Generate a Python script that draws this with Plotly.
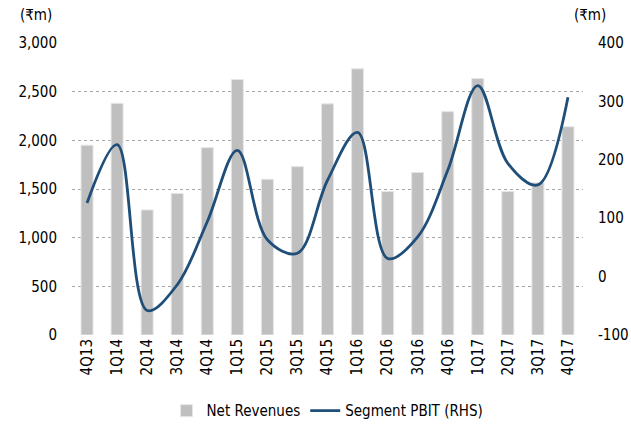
import plotly.graph_objects as go

quarters = ["4Q13", "1Q14", "2Q14", "3Q14", "4Q14", "1Q15", "2Q15", "3Q15", "4Q15",
            "1Q16", "2Q16", "3Q16", "4Q16", "1Q17", "2Q17", "3Q17", "4Q17"]
net_revenues = [1950, 2380, 1285, 1455, 1925, 2625, 1600, 1730, 2375,
                2735, 1475, 1670, 2295, 2635, 1475, 1565, 2140]
segment_pbit = [126, 226, -58, -14, 94, 216, 63, 40, 165,
                247, 31, 68, 182, 327, 194, 157, 307]
left_ticks = [0, 500, 1000, 1500, 2000, 2500, 3000]
left_labels = ["0", "500", "1,000", "1,500", "2,000", "2,500", "3,000"]
right_ticks = [-100, 0, 100, 200, 300, 400]
right_labels = ["-100", "0", "100", "200", "300", "400"]

FONT = "DejaVu Sans Condensed, Liberation Sans Narrow, Liberation Sans, sans-serif"

fig = go.Figure()
fig.add_trace(go.Bar(
    x=quarters, y=net_revenues, name="Net Revenues",
    marker=dict(color="#BFBFBF", line=dict(color="#E6E6E6", width=1)),
    width=0.4,
))
fig.add_trace(go.Scatter(
    x=quarters, y=segment_pbit, name="Segment PBIT (RHS)", yaxis="y2",
    mode="lines", line=dict(color="#1F4E79", width=2.8, shape="spline", smoothing=1.0),
))

fig.update_layout(
    width=631, height=428,
    margin=dict(l=72, r=48, t=43, b=93),
    paper_bgcolor="white", plot_bgcolor="white",
    font=dict(family=FONT, size=15, color="#000000"),
    showlegend=True,
    legend=dict(orientation="h", x=0.5, xanchor="center", yref="container", y=0.04,
                yanchor="middle", font=dict(size=15), itemwidth=30, tracegroupgap=0),
    xaxis=dict(tickangle=-90, showgrid=False, showline=False, ticks="",
               tickfont=dict(size=15), range=[-0.5, 16.5], automargin=False),
    yaxis=dict(range=[0, 3000], tickvals=left_ticks, ticktext=left_labels,
               showgrid=True, gridcolor="#A6A6A6", griddash="3px,3px", gridwidth=1,
               zeroline=False, showline=False, ticks="", ticklabelstandoff=14,
               automargin=False),
    yaxis2=dict(range=[-100, 400], tickvals=right_ticks, ticktext=right_labels,
                overlaying="y", side="right", showgrid=False, zeroline=False,
                showline=False, ticks="", ticklabelstandoff=14, automargin=False),
    annotations=[
        dict(text="(₹m)", xref="paper", yref="paper", x=0, y=1, xshift=-54, yshift=28,
             showarrow=False, xanchor="left", yanchor="middle", font=dict(size=15)),
        dict(text="(₹m)", xref="paper", yref="paper", x=1, y=1, xshift=-11, yshift=28,
             showarrow=False, xanchor="left", yanchor="middle", font=dict(size=15)),
    ],
)

fig.write_html("out.html", config={"displayModeBar": False},
               post_script="document.body.style.margin='0px';")
